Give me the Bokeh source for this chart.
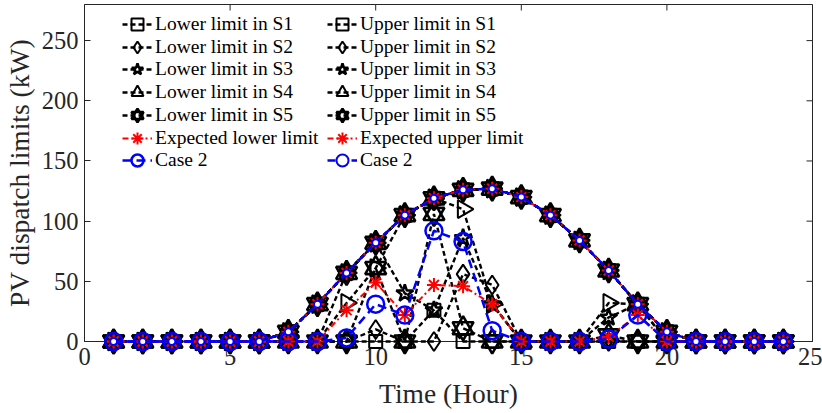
import math
from bokeh.plotting import figure
from bokeh.models import Range1d, Legend, LegendItem, FixedTicker
from bokeh.embed import file_html
from bokeh.resources import INLINE

hours = list(range(1, 25))

upper_s1 = [0, 0, 0, 0, 0, 0, 8, 31, 57, 82, 105, 119, 126, 127, 120, 105, 84, 59, 31, 8, 0, 0, 0, 0]
upper_s2 = [0, 0, 0, 0, 0, 0, 8, 31, 57, 82, 105, 119, 126, 127, 120, 105, 84, 59, 31, 8, 0, 0, 0, 0]
upper_s3 = [0, 0, 0, 0, 0, 0, 8, 31, 57, 82, 105, 119, 126, 127, 120, 105, 84, 59, 31, 8, 0, 0, 0, 0]
upper_s4 = [0, 0, 0, 0, 0, 0, 8, 31, 57, 82, 105, 119, 126, 127, 120, 105, 84, 59, 31, 8, 0, 0, 0, 0]
upper_s5 = [0, 0, 0, 0, 0, 0, 8, 31, 57, 82, 105, 119, 126, 127, 120, 105, 84, 59, 31, 8, 0, 0, 0, 0]

lower_s1 = [0, 0, 0, 0, 0, 0, 0, 0, 0, 0, 0, 26, 0, 0, 0, 0, 0, 0, 0, 0, 0, 0, 0, 0]
lower_s2 = [0, 0, 0, 0, 0, 0, 0, 0, 0, 10, 0, 0, 56, 47, 0, 0, 0, 0, 0, 0, 0, 0, 0, 0]
lower_s3 = [0, 0, 0, 0, 0, 0, 0, 0, 57, 82, 40, 26, 86, 31, 0, 0, 0, 20, 31, 0, 0, 0, 0, 0]
lower_s4 = [0, 0, 0, 0, 0, 0, 0, 0, 32, 61, 105, 119, 110, 31, 0, 0, 0, 32, 31, 0, 0, 0, 0, 0]
lower_s5 = [0, 0, 0, 0, 0, 0, 0, 0, 0, 61, 0, 106, 11, 0, 0, 0, 0, 5, 0, 0, 0, 0, 0, 0]

expected_lower = [0, 0, 0, 0, 0, 0, 0, 0, 26, 49, 22, 47, 46, 31, 0, 0, 0, 4, 22, 0, 0, 0, 0, 0]
expected_upper = [0, 0, 0, 0, 0, 0, 8, 31, 57, 82, 105, 119, 126, 127, 120, 105, 84, 59, 31, 8, 0, 0, 0, 0]
case2_lower = [0, 0, 0, 0, 0, 0, 0, 0, 3, 31, 22, 92, 83, 9, 0, 0, 0, 2, 22, 0, 0, 0, 0, 0]
case2_upper = [0, 0, 0, 0, 0, 0, 8, 31, 57, 82, 105, 119, 126, 127, 120, 105, 84, 59, 31, 8, 0, 0, 0, 0]

x_ticks = [0, 5, 10, 15, 20, 25]
y_ticks = [0, 50, 100, 150, 200, 250]
x_lim = [0, 25]
y_lim = [0, 280]

FONT = "Liberation Serif"
AX = "#262626"

p = figure(frame_width=728, frame_height=337,
           min_border_left=84, min_border_right=10, min_border_top=4, min_border_bottom=72,
           x_range=Range1d(x_lim[0], x_lim[1]), y_range=Range1d(y_lim[0], y_lim[1]),
           output_backend="svg", toolbar_location=None)
p.grid.visible = False
p.outline_line_color = AX
p.outline_line_width = 1
p.background_fill_color = "white"
p.border_fill_color = "white"

for ax in (p.xaxis[0], p.yaxis[0]):
    ax.axis_line_color = AX
    ax.major_tick_line_color = AX
    ax.major_tick_in = 6
    ax.major_tick_out = 0
    ax.minor_tick_line_color = None
    ax.major_label_text_font = FONT
    ax.major_label_text_color = AX
    ax.major_label_text_font_size = "24.5px"
    ax.axis_label_text_font = FONT
    ax.axis_label_text_color = AX
    ax.axis_label_text_font_style = "normal"
    ax.axis_label_text_font_size = "27.5px"

p.xaxis.ticker = FixedTicker(ticks=x_ticks)
p.yaxis.ticker = FixedTicker(ticks=y_ticks)
p.xaxis.axis_label = "Time (Hour)"
p.yaxis.axis_label = "PV dispatch limits (kW)"
p.xaxis.major_label_standoff = 6
p.yaxis.major_label_standoff = 6
p.xaxis.axis_label_standoff = 10
p.yaxis.axis_label_standoff = 4

# inward ticks on the top and right edges of the box
p.ray(x=x_ticks, y=[y_lim[1]] * len(x_ticks), length=6, length_units="screen",
      angle=-math.pi / 2, line_color=AX, line_width=1)
p.ray(x=[x_lim[1]] * len(y_ticks), y=y_ticks, length=6, length_units="screen",
      angle=math.pi, line_color=AX, line_width=1)

LEVEL = "overlay"

def series(y, color, dash, markers, msize, mlw, fill=None, lw=2.0):
    rs = [p.line(hours, y, line_color=color, line_width=lw, line_dash=dash, level=LEVEL)]
    for m, ang in markers:
        rs.append(p.scatter(hours, y, marker=m, size=msize, line_color=color, line_width=mlw,
                            fill_color=fill, angle=ang, level=LEVEL))
    return rs

BK = "black"
BDASH = "5 3"
BLW = 2.4
sq = [("square", 0.0)]
dm = [("diamond", 0.0)]
st = [("star", 0.0)]
tr = [("triangle", -math.pi / 2)]
hx = [("triangle", 0.0), ("inverted_triangle", 0.0)]

r_l1 = series(lower_s1, BK, BDASH, sq, 13, 2, lw=BLW)
r_u1 = series(upper_s1, BK, BDASH, sq, 13, 2, lw=BLW)
r_l2 = series(lower_s2, BK, BDASH, dm, 19, 2, lw=BLW)
r_u2 = series(upper_s2, BK, BDASH, dm, 19, 2, lw=BLW)
r_l3 = series(lower_s3, BK, BDASH, st, 18, 2.5, lw=BLW)
r_u3 = series(upper_s3, BK, BDASH, st, 18, 2.5, lw=BLW)
r_l4 = series(lower_s4, BK, BDASH, tr, 18, 2, lw=BLW)
r_u4 = series(upper_s4, BK, BDASH, tr, 18, 2, lw=BLW)
r_l5 = series(lower_s5, BK, BDASH, hx, 21, 2.6, lw=BLW)
r_u5 = series(upper_s5, BK, BDASH, hx, 21, 2.6, lw=BLW)
r_el = series(expected_lower, "red", "6 3 2 3", [("asterisk", 0.0)], 14, 2)
r_eu = series(expected_upper, "red", "6 3 2 3", [("asterisk", 0.0)], 14, 2)
r_cl = series(case2_lower, "blue", "9 5", [("circle", 0.0)], 17, 2.5, fill=None, lw=2.5)
r_cu = series(case2_upper, "blue", "8 4", [("circle", 0.0)], 7, 2, fill="white", lw=2.5)

col1 = [("Lower limit in S1", r_l1), ("Lower limit in S2", r_l2), ("Lower limit in S3", r_l3),
        ("Lower limit in S4", r_l4), ("Lower limit in S5", r_l5),
        ("Expected lower limit", r_el), ("Case 2", r_cl)]
col2 = [("Upper limit in S1", r_u1), ("Upper limit in S2", r_u2), ("Upper limit in S3", r_u3),
        ("Upper limit in S4", r_u4), ("Upper limit in S5", r_u5),
        ("Expected upper limit", r_eu), ("Case 2", r_cu)]

ROW_H = 30
FIRST_CENTER = 20    # px below frame top
ROW_STEP = 22.7
for col_x, col in ((38, col1), (243, col2)):
    for i, (lab, rs) in enumerate(col):
        center = FIRST_CENTER + ROW_STEP * i
        bottom = 337 - center - ROW_H / 2
        lg = Legend(items=[LegendItem(label=lab, renderers=rs)], location=(col_x, bottom),
                    orientation="vertical", glyph_width=30, glyph_height=ROW_H, label_height=20,
                    spacing=0, padding=0, margin=0, label_standoff=3,
                    border_line_color=None, background_fill_alpha=0,
                    label_text_font=FONT, label_text_font_size="19.5px",
                    label_text_color="black")
        p.add_layout(lg)

open("out.html", "w").write(file_html(p, INLINE))
